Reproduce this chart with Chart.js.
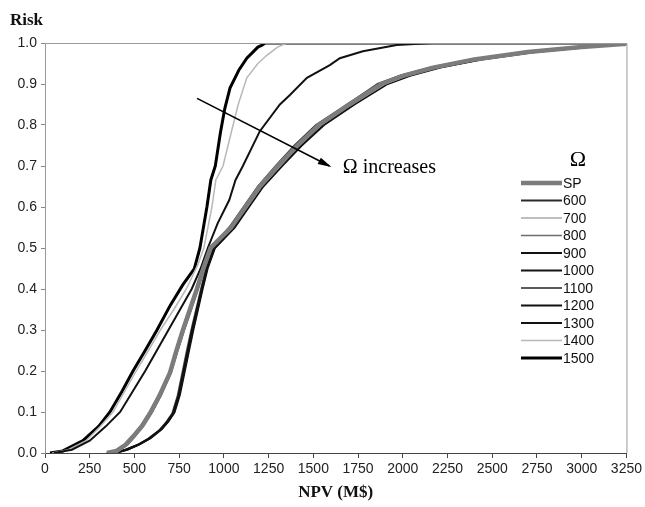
<!DOCTYPE html>
<html>
<head>
<meta charset="utf-8">
<script src="https://cdn.jsdelivr.net/npm/chart.js@4.4.1/dist/chart.umd.min.js"></script>
<style>
  html, body { margin: 0; padding: 0; background: #fff; }
  canvas { display: block; }
</style>
</head>
<body>
<canvas id="cdf" width="645" height="507"></canvas>
<script>
// NPV (M$) vs cumulative risk
const labels = ['SP', '600', '700', '800', '900', '1000', '1100', '1200', '1300', '1400', '1500'];

const curveSP = [[346,0],[400,0.005],[450,0.02],[492,0.04],[540,0.065],[587,0.097],[640,0.14],[698,0.195],[735,0.25],[771,0.30],[810,0.35],[849,0.40],[885,0.45],[925,0.50],[1040,0.55],[1120,0.60],[1200,0.65],[1300,0.70],[1410,0.75],[1530,0.80],[1700,0.85],[1880,0.90],[2000,0.92],[2170,0.94],[2400,0.96],[2700,0.978],[3000,0.99],[3250,0.998]];
const curve600 = [[355,0],[410,0.006],[460,0.022],[500,0.042],[548,0.067],[595,0.099],[648,0.142],[703,0.197],[740,0.25],[776,0.30],[815,0.35],[853,0.40],[888,0.45],[928,0.50],[1030,0.55],[1110,0.60],[1190,0.65],[1290,0.70],[1395,0.75],[1515,0.80],[1690,0.85],[1860,0.90],[1985,0.92],[2150,0.94],[2380,0.96],[2680,0.978],[2980,0.99],[3250,1.0]];
const curve700 = [[340,0],[395,0.004],[445,0.018],[488,0.038],[535,0.063],[582,0.095],[636,0.138],[694,0.193],[731,0.248],[768,0.30],[806,0.35],[846,0.40],[882,0.45],[922,0.50],[1045,0.55],[1130,0.60],[1210,0.65],[1315,0.70],[1420,0.75],[1545,0.80],[1715,0.85],[1900,0.90],[2020,0.92],[2190,0.94],[2420,0.96],[2720,0.978],[3020,0.99],[3250,0.997]];
const curve800 = [[360,0],[415,0.006],[465,0.021],[505,0.041],[552,0.066],[598,0.098],[650,0.141],[706,0.196],[742,0.25],[779,0.30],[818,0.35],[856,0.40],[890,0.45],[930,0.50],[1035,0.55],[1115,0.60],[1195,0.65],[1295,0.70],[1400,0.75],[1520,0.80],[1695,0.85],[1870,0.90],[1995,0.92],[2160,0.94],[2390,0.96],[2690,0.978],[2990,0.99],[3250,0.999]];
const curve900 = [[380,0],[450,0.008],[520,0.02],[580,0.035],[642,0.056],[680,0.075],[715,0.097],[745,0.14],[771,0.195],[797,0.25],[821,0.30],[848,0.35],[875,0.40],[903,0.45],[945,0.50],[1050,0.55],[1125,0.60],[1205,0.65],[1305,0.70],[1415,0.75],[1535,0.80],[1705,0.85],[1890,0.90],[2010,0.92],[2180,0.94],[2410,0.96],[2710,0.978],[3010,0.99],[3250,0.998]];
const curve1000 = [[390,0],[460,0.008],[528,0.021],[588,0.036],[648,0.057],[686,0.076],[720,0.098],[750,0.141],[776,0.196],[801,0.25],[825,0.30],[852,0.35],[878,0.40],[906,0.45],[948,0.50],[1055,0.55],[1135,0.60],[1215,0.65],[1320,0.70],[1425,0.75],[1550,0.80],[1720,0.85],[1905,0.90],[2030,0.92],[2200,0.94],[2430,0.96],[2730,0.978],[3030,0.99],[3250,0.997]];
const curve1100 = [[375,0],[445,0.007],[515,0.019],[575,0.034],[638,0.055],[676,0.074],[711,0.096],[741,0.139],[767,0.194],[793,0.25],[818,0.30],[845,0.35],[872,0.40],[900,0.45],[942,0.50],[1045,0.55],[1120,0.60],[1200,0.65],[1300,0.70],[1405,0.75],[1525,0.80],[1700,0.85],[1880,0.90],[2005,0.92],[2170,0.94],[2400,0.96],[2700,0.978],[3000,0.99],[3250,1.0]];
const curve1200 = [[395,0],[465,0.009],[532,0.022],[592,0.037],[652,0.058],[690,0.077],[724,0.099],[754,0.142],[780,0.197],[805,0.25],[829,0.30],[855,0.35],[881,0.40],[909,0.45],[950,0.50],[1060,0.55],[1140,0.60],[1220,0.65],[1325,0.70],[1435,0.75],[1560,0.80],[1730,0.85],[1915,0.90],[2040,0.92],[2210,0.94],[2440,0.96],[2740,0.978],[3040,0.99],[3250,0.998]];
const curve1300 = [[50,0],[150,0.008],[250,0.03],[340,0.065],[420,0.10],[490,0.15],[560,0.20],[625,0.25],[690,0.30],[755,0.35],[820,0.40],[870,0.45],[910,0.50],[965,0.56],[1030,0.617],[1065,0.666],[1106,0.70],[1201,0.785],[1313,0.85],[1369,0.873],[1464,0.915],[1592,0.946],[1648,0.963],[1777,0.98],[1966,0.995],[2168,1.0],[3250,1.0]];
const curve1400 = [[40,0],[130,0.008],[230,0.03],[310,0.065],[380,0.10],[445,0.15],[510,0.20],[578,0.25],[645,0.30],[720,0.35],[790,0.40],[855,0.46],[888,0.50],[933,0.60],[955,0.666],[995,0.70],[1040,0.78],[1080,0.85],[1128,0.915],[1190,0.95],[1240,0.97],[1300,0.99],[1352,1.0],[3250,1.0]];
const curve1500 = [[28,0],[100,0.005],[212,0.03],[300,0.065],[363,0.10],[430,0.15],[492,0.20],[560,0.25],[626,0.30],[700,0.36],[770,0.41],[835,0.45],[866,0.50],[905,0.60],[927,0.666],[952,0.70],[980,0.78],[1005,0.84],[1034,0.89],[1085,0.935],[1128,0.963],[1190,0.99],[1215,0.995],[1230,1.0],[3250,1.0]];

const curves = [curveSP, curve600, curve700, curve800, curve900, curve1000, curve1100, curve1200, curve1300, curve1400, curve1500];
const lineColors = ['#7c7c7c', '#2a2a2a', '#a8a8a8', '#6e6e6e', '#111111', '#151515', '#5a5a5a', '#101010', '#121212', '#b8b8b8', '#000000'];
const lineWidths = [4.5, 2, 1.5, 1.5, 2, 2, 2, 2, 2, 1.5, 3];

const xTicks = [0, 250, 500, 750, 1000, 1250, 1500, 1750, 2000, 2250, 2500, 2750, 3000, 3250];
const yTicks = [0, 0.1, 0.2, 0.3, 0.4, 0.5, 0.6, 0.7, 0.8, 0.9, 1.0];

// "Omega increases" arrow, in data units
const arrowFrom = [850, 0.865];
const arrowTo = [1590, 0.70];
const arrowText = [1665, 0.695];

const sans = "'Liberation Sans', Arial, sans-serif";
const serif = "'Liberation Serif', 'Times New Roman', serif";

const datasets = curves.map((pts, i) => ({
  label: labels[i],
  data: pts.map(p => ({ x: p[0], y: p[1] })),
  borderColor: lineColors[i],
  backgroundColor: lineColors[i],
  borderWidth: lineWidths[i],
  pointRadius: 0,
  tension: 0,
  fill: false
}));

// frame, arrow, legend and the "Risk" label
const decorations = {
  id: 'decorations',
  afterDatasetsDraw(chart){
    const ctx = chart.ctx;
    const a = chart.chartArea;
    const xs = chart.scales.x, ys = chart.scales.y;

    ctx.save();
    ctx.strokeStyle = '#9a9a9a';
    ctx.lineWidth = 1;
    ctx.beginPath();
    ctx.moveTo(a.left, a.top + 0.5);
    ctx.lineTo(a.right + 0.5, a.top + 0.5);
    ctx.lineTo(a.right + 0.5, a.bottom);
    ctx.stroke();

    // arrow
    const x1 = xs.getPixelForValue(arrowFrom[0]), y1 = ys.getPixelForValue(arrowFrom[1]);
    const x2 = xs.getPixelForValue(arrowTo[0]), y2 = ys.getPixelForValue(arrowTo[1]);
    ctx.strokeStyle = '#000';
    ctx.fillStyle = '#000';
    ctx.lineWidth = 1.6;
    ctx.beginPath();
    ctx.moveTo(x1, y1);
    ctx.lineTo(x2, y2);
    ctx.stroke();
    const ang = Math.atan2(y2 - y1, x2 - x1);
    ctx.beginPath();
    ctx.moveTo(x2 + 2, y2 + 1);
    ctx.lineTo(x2 - 12 * Math.cos(ang - 0.3), y2 - 12 * Math.sin(ang - 0.3));
    ctx.lineTo(x2 - 12 * Math.cos(ang + 0.3), y2 - 12 * Math.sin(ang + 0.3));
    ctx.closePath();
    ctx.fill();

    ctx.font = '20px ' + serif;
    ctx.textAlign = 'left';
    ctx.textBaseline = 'middle';
    ctx.fillText('\u03A9 increases', xs.getPixelForValue(arrowText[0]), ys.getPixelForValue(arrowText[1]));

    // legend
    ctx.font = '22px ' + serif;
    ctx.textAlign = 'center';
    ctx.fillText('\u03A9', 578, 160);
    ctx.font = '14px ' + sans;
    ctx.textAlign = 'left';
    labels.forEach((lab, i) => {
      const y = 183 + i * 17.5;
      ctx.strokeStyle = lineColors[i];
      ctx.lineWidth = lineWidths[i];
      ctx.beginPath();
      ctx.moveTo(521, y);
      ctx.lineTo(562, y);
      ctx.stroke();
      ctx.fillStyle = '#111';
      ctx.fillText(lab, 563, y + 1);
    });

    ctx.font = 'bold 17px ' + serif;
    ctx.textBaseline = 'alphabetic';
    ctx.fillText('Risk', 10, 25);
    ctx.restore();
  }
};

new Chart(document.getElementById('cdf'), {
  type: 'line',
  data: { datasets },
  options: {
    responsive: false,
    animation: false,
    layout: { padding: { left: 0, right: 18, top: 43, bottom: 0 } },
    plugins: {
      legend: { display: false },
      tooltip: { enabled: false }
    },
    scales: {
      x: {
        type: 'linear',
        min: 0, max: 3250,
        afterBuildTicks(scale){ scale.ticks = xTicks.map(v => ({ value: v })); },
        afterFit(scale){ scale.height = 54; },
        ticks: { color: '#222', font: { size: 14, family: sans }, padding: 3, maxRotation: 0, autoSkip: false, callback: v => String(v) },
        grid: { drawOnChartArea: false, drawTicks: true, tickLength: 5, color: '#444' },
        border: { color: '#444' },
        title: { display: true, text: 'NPV (M$)', color: '#111', font: { size: 17, weight: 'bold', family: serif }, padding: { top: 6 } }
      },
      y: {
        min: 0, max: 1,
        afterBuildTicks(scale){ scale.ticks = yTicks.map(v => ({ value: v })); },
        afterFit(scale){ scale.width = 45; },
        ticks: { color: '#222', font: { size: 14, family: sans }, padding: 4, callback: v => v.toFixed(1) },
        grid: { drawOnChartArea: false, drawTicks: true, tickLength: 4, color: '#888' },
        border: { color: '#999' }
      }
    }
  },
  plugins: [decorations]
});
</script>
</body>
</html>
